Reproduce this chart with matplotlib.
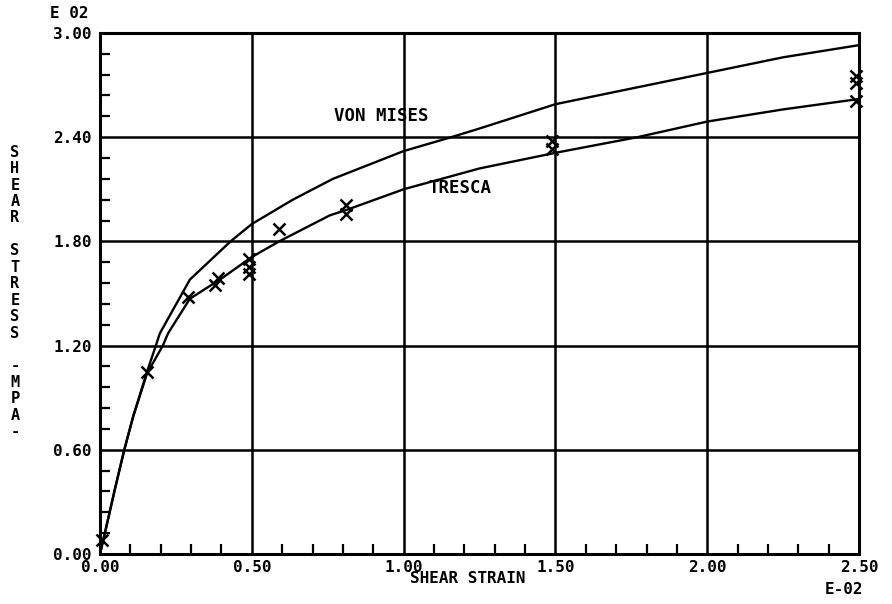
import matplotlib
matplotlib.use("Agg")
import matplotlib.pyplot as plt
from matplotlib.ticker import MultipleLocator, FixedLocator

# Plotter-style axis values (x in units of E-02, y in units of E 02)
x_ticks = [0.0, 0.5, 1.0, 1.5, 2.0, 2.5]
x_tick_labels = ["0.00", "0.50", "1.00", "1.50", "2.00", "2.50"]
y_ticks = [0.0, 0.6, 1.2, 1.8, 2.4, 3.0]
y_tick_labels = ["0.00", "0.60", "1.20", "1.80", "2.40", "3.00"]

# Model curves
mises_x = [0.0, 0.016, 0.05, 0.08, 0.109, 0.155, 0.184, 0.197, 0.296, 0.43, 0.5,
           0.635, 0.767, 1.0, 1.157, 1.25, 1.5, 1.75, 2.0, 2.25, 2.5]
mises_y = [0.0, 0.12, 0.38, 0.60, 0.79, 1.05, 1.20, 1.27, 1.58, 1.80, 1.90,
           2.04, 2.16, 2.32, 2.40, 2.45, 2.59, 2.68, 2.77, 2.86, 2.93]
tresca_x = [0.0, 0.016, 0.05, 0.08, 0.109, 0.155, 0.207, 0.224, 0.296, 0.395, 0.5,
            0.59, 0.757, 0.81, 1.0, 1.25, 1.5, 1.77, 2.0, 2.25, 2.5]
tresca_y = [0.0, 0.12, 0.38, 0.60, 0.79, 1.04, 1.20, 1.27, 1.47, 1.58, 1.71,
            1.80, 1.95, 1.98, 2.10, 2.22, 2.31, 2.40, 2.49, 2.56, 2.62]

# Measured points
meas_x = [0.005, 0.155, 0.29, 0.38, 0.39, 0.49, 0.49, 0.49, 0.59, 0.81, 0.81,
          1.49, 1.49, 2.49, 2.49, 2.49]
meas_y = [0.08, 1.05, 1.48, 1.55, 1.59, 1.70, 1.65, 1.61, 1.87, 2.01, 1.96,
          2.38, 2.33, 2.75, 2.71, 2.61]

font = dict(family="DejaVu Sans Mono", weight="bold", color="black")

fig = plt.figure(figsize=(8.92, 6.04), dpi=100)
ax = fig.add_axes([0.1121, 0.0828, 0.851, 0.8626])

ax.plot(mises_x, mises_y, color="black", lw=1.7, solid_joinstyle="round")
ax.plot(tresca_x, tresca_y, color="black", lw=1.7, solid_joinstyle="round")
ax.plot(meas_x, meas_y, ls="none", marker="x", ms=9, mew=1.8, color="black",
        clip_on=False)

ax.text(0.77, 2.52, "VON MISES", fontsize=12.5, va="center", **font)
ax.text(1.08, 2.11, "TRESCA", fontsize=12.5, va="center", **font)

ax.set_xlim(0, 2.5)
ax.set_ylim(0, 3.0)
ax.xaxis.set_major_locator(FixedLocator(x_ticks))
ax.yaxis.set_major_locator(FixedLocator(y_ticks))
ax.xaxis.set_minor_locator(MultipleLocator(0.1))
ax.yaxis.set_minor_locator(MultipleLocator(0.12))
ax.set_xticklabels(x_tick_labels, fontsize=11.5, **font)
ax.set_yticklabels(y_tick_labels, fontsize=11.5, **font)
ax.tick_params(which="major", length=0, pad=6)
ax.tick_params(axis="x", which="major", pad=4)
ax.tick_params(which="minor", direction="in", length=7, width=1.6)
ax.grid(True, which="major", color="black", lw=1.8)
for s in ax.spines.values():
    s.set_linewidth(2.2)

fig.text(0.099, 0.978, "E 02", fontsize=11.5, ha="right", va="center", **font)
fig.text(0.946, 0.024, "E-02", fontsize=11.5, ha="center", va="center", **font)
fig.text(0.524, 0.043, "SHEAR STRAIN", fontsize=11.5, ha="center", va="center", **font)

ylabel = "SHEAR STRESS -MPA-"
fig.text(0.0168, 0.5166, "\n".join(ylabel), fontsize=11, ha="center", va="center",
         linespacing=1.12, **font)

fig.savefig("out.png", dpi=100)
